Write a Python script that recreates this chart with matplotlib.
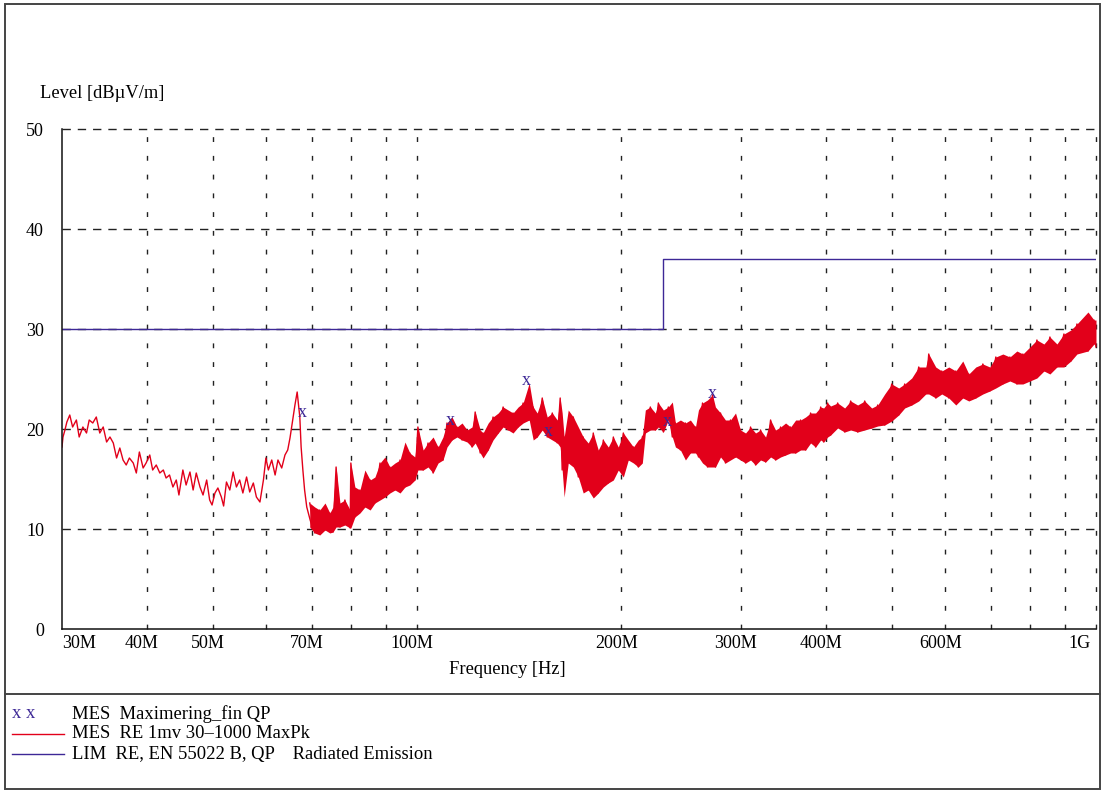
import numpy as np
import matplotlib
matplotlib.use("Agg")
import matplotlib.pyplot as plt
import matplotlib.transforms as mtransforms
from matplotlib.patches import Rectangle
from matplotlib.lines import Line2D

plt.rcParams['font.family'] = ['Liberation Serif', 'DejaVu Serif']

# 30-70 MHz: peak scan, thin noisy trace (MHz, dBuV/m)
trace_f = [30.0, 30.1, 30.3, 30.5, 30.8, 31.1, 31.5, 31.8, 32.2, 32.6,
           32.9, 33.3, 33.7, 34.1, 34.5, 34.9, 35.3, 35.7, 36.1, 36.5,
           36.9, 37.3, 37.7, 38.2, 38.6, 39.0, 39.5, 39.9, 40.4, 40.8,
           41.3, 41.8, 42.3, 42.7, 43.2, 43.7, 44.2, 44.6, 45.2, 45.7,
           46.3, 46.8, 47.3, 47.9, 48.4, 49.0, 49.5, 49.9, 50.4, 50.9,
           51.5, 51.9, 52.4, 53.0, 53.6, 54.2, 54.8, 55.4, 56.1, 56.7,
           57.4, 58.0, 58.7, 59.4, 59.9, 60.4, 61.1, 61.8, 62.4, 63.2,
           63.9, 64.5, 65.0, 65.5, 66.1, 66.6, 67.2, 67.5, 67.9, 68.3,
           68.8, 69.6, 70.1]
trace_level = [18.2, 19.2, 19.9, 20.7, 21.4, 20.2, 20.9, 19.2, 20.2, 19.6,
               20.9, 20.6, 21.2, 19.6, 20.2, 18.7, 19.2, 18.6, 17.1, 18.1,
               16.9, 16.4, 17.1, 16.6, 15.6, 17.7, 16.1, 16.6, 17.4, 15.9,
               16.4, 15.6, 15.9, 15.1, 15.4, 14.2, 14.9, 13.4, 15.9, 14.4,
               15.7, 13.9, 15.6, 14.2, 13.4, 14.9, 12.9, 12.4, 13.6, 14.1,
               13.2, 12.3, 14.7, 13.9, 15.7, 14.2, 14.9, 13.6, 15.2, 13.7,
               14.6, 13.2, 12.7, 14.9, 17.1, 15.9, 16.9, 15.4, 16.9, 16.1,
               17.4, 17.9, 19.1, 20.6, 22.4, 23.7, 21.2, 18.2, 15.9, 13.9,
               12.2, 10.9, 10.2]

# 70 MHz - 1 GHz: dense peak scan, min/max envelope
band_f = [69.5, 70.7, 71.9, 73.2, 74.4, 75.2, 76.0, 77.0, 78.3, 79.7,
          79.9, 81.0, 82.4, 83.8, 85.3, 86.7, 88.2, 89.7, 91.2, 92.8,
          94.4, 96.0, 97.6, 99.3, 100.3, 102.1, 103.8, 105.6, 107.4, 109.2,
          110.7, 112.6, 114.5, 116.5, 118.5, 120.5, 121.8, 123.9, 125.1, 127.3,
          129.4, 131.7, 133.9, 136.2, 138.5, 140.9, 143.3, 146.3, 148.3, 150.3,
          152.9, 155.5, 158.2, 160.9, 162.5, 163.6, 164.7, 167.0, 169.9, 172.8,
          175.7, 178.7, 181.8, 184.9, 188.1, 191.3, 194.6, 197.9, 201.3, 204.7,
          208.3, 211.8, 214.7, 216.9, 220.6, 224.4, 226.7, 230.6, 234.5, 237.7,
          240.2, 244.3, 248.5, 252.7, 257.1, 259.7, 263.3, 267.8, 272.4, 275.1,
          279.9, 284.6, 289.5, 294.5, 299.5, 304.7, 309.9, 315.2, 320.6, 326.1,
          331.7, 337.3, 343.1, 349.0, 355.0, 361.1, 367.2, 373.5, 379.9, 386.4,
          393.1, 397.1, 402.5, 406.6, 416.4, 426.4, 435.2, 445.6, 456.4, 467.3,
          477.0, 488.4, 500.2, 512.2, 522.7, 535.3, 548.2, 561.4, 567.1, 580.7,
          592.7, 607.0, 621.6, 636.5, 649.6, 665.2, 681.3, 697.7, 712.0, 729.2,
          746.7, 764.6, 780.4, 799.2, 818.4, 838.1, 855.3, 875.9, 896.9, 918.5,
          937.4, 973.2, 993.2, 1000.0]
band_lo = [10.2, 9.6, 9.4, 9.9, 9.6, 9.7, 10.2, 10.2, 10.4, 10.1,
           10.1, 11.2, 11.6, 12.2, 11.9, 12.6, 12.9, 13.2, 13.6, 13.9,
           13.6, 14.2, 14.4, 14.9, 15.9, 15.9, 16.2, 15.6, 16.6, 16.9,
           18.2, 18.9, 19.2, 18.9, 18.7, 18.2, 18.6, 17.6, 17.1, 17.9,
           18.9, 19.6, 20.2, 19.9, 19.6, 20.2, 20.6, 20.9, 18.9, 19.2,
           19.9, 19.2, 18.9, 18.6, 18.2, 15.9, 13.2, 16.6, 16.2, 15.2,
           13.6, 13.9, 13.1, 13.6, 14.2, 14.6, 14.9, 15.9, 15.2, 16.9,
           16.6, 16.2, 16.6, 19.6, 19.9, 19.9, 20.2, 19.7, 20.9, 19.2,
           18.2, 17.9, 16.9, 17.6, 17.6, 17.2, 16.6, 16.2, 16.2, 16.2,
           17.2, 16.6, 16.9, 17.2, 16.9, 16.6, 16.9, 16.4, 16.9, 16.7,
           17.2, 16.9, 17.2, 17.4, 17.6, 17.6, 17.9, 17.9, 18.6, 18.2,
           18.9, 18.7, 19.2, 19.4, 20.1, 19.7, 19.9, 19.7, 19.9, 20.1,
           20.3, 20.4, 20.8, 21.4, 22.1, 22.4, 22.8, 23.5, 23.5, 23.1,
           23.5, 23.1, 22.4, 23.1, 22.8, 23.1, 23.5, 23.8, 24.1, 24.5,
           24.8, 24.5, 24.5, 24.8, 25.1, 25.8, 25.5, 26.2, 26.2, 26.8,
           27.5, 27.8, 28.5, 28.2]
band_hi = [12.6, 12.2, 11.9, 12.6, 11.6, 12.2, 16.2, 12.6, 12.9, 11.9,
           16.6, 14.2, 13.9, 15.9, 14.9, 15.2, 16.6, 17.2, 16.2, 16.6,
           16.9, 18.7, 17.6, 17.2, 20.2, 17.9, 18.6, 19.2, 18.2, 19.2,
           20.6, 21.2, 20.2, 20.6, 19.9, 20.2, 21.7, 19.9, 19.6, 20.6,
           21.2, 21.6, 22.2, 21.9, 21.6, 22.2, 22.6, 24.6, 22.2, 21.6,
           23.1, 21.2, 21.6, 20.9, 23.1, 21.6, 19.2, 21.9, 21.2, 20.2,
           19.2, 18.6, 19.6, 17.9, 18.9, 18.2, 19.2, 18.2, 19.6, 18.9,
           18.2, 18.9, 19.2, 21.9, 22.2, 21.6, 22.6, 21.9, 22.2, 22.7,
           20.6, 20.9, 20.6, 20.9, 20.2, 21.9, 22.6, 22.9, 23.4, 22.2,
           21.6, 20.9, 20.9, 21.6, 19.9, 19.6, 20.2, 19.6, 19.9, 19.2,
           20.9, 19.9, 20.2, 20.6, 20.2, 20.9, 20.9, 21.2, 21.6, 21.6,
           22.2, 22.1, 22.6, 22.3, 22.6, 22.1, 22.8, 22.4, 22.8, 22.1,
           22.4, 23.5, 24.5, 24.1, 24.5, 25.1, 26.2, 26.2, 27.5, 26.2,
           25.8, 26.2, 25.8, 26.8, 25.5, 26.2, 26.5, 26.2, 27.2, 27.5,
           27.2, 27.8, 27.5, 28.2, 28.9, 28.5, 29.2, 28.5, 29.5, 29.9,
           30.5, 31.7, 30.9, 30.9]

# EN 55022 class B QP limit
limit_f = [30, 230, 1000]
limit_level = [30, 37, 37]

# final QP measurements
qp_f = [67.7, 111.9, 145.1, 156.2, 234.0, 272.1]
qp_level = [21.7, 20.9, 24.9, 19.8, 20.8, 23.6]

xtick_f = [30, 40, 50, 70, 100, 200, 300, 400, 600, 1000]
xtick_labels = ['30M', '40M', '50M', '70M', '100M', '200M', '300M', '400M', '600M', '1G']
grid_f = [40, 50, 60, 70, 80, 90, 100, 200, 300, 400, 500, 600, 700, 800, 900, 1000]
ytick = [0, 10, 20, 30, 40, 50]

red = '#e2001a'
purple = '#3d2896'

W, H = 1103, 792
fig = plt.figure(figsize=(W / 100, H / 100), dpi=100)
ax = fig.add_axes([62 / W, 1 - 629 / H, (1096 - 62) / W, 500 / H])

ax.set_xscale('log')
ax.set_xlim(30, 1000)
ax.set_ylim(0, 50)

# trace
ax.plot(trace_f, trace_level, color=red, lw=1.0)
zig = [h if i % 2 == 0 else l for i, (l, h) in enumerate(zip(band_lo, band_hi))]
ax.fill_between(band_f, band_lo, band_hi, color=red, lw=0)
ax.plot(band_f, zig, color=red, lw=1.0)

ax.step(limit_f, limit_level, where='post', color=purple, lw=1.0)

for f, v in zip(qp_f, qp_level):
    ax.text(f, v, 'x', color=purple, fontsize=13, ha='center', va='center')

# axes & grid
ax.set_xticks(grid_f, minor=False)
ax.set_xticks([], minor=True)
ax.set_xticklabels([])
for f in grid_f:
    ax.axvline(f, color='#222222', lw=1.0, ls=(0, (3.5, 10)), clip_on=False, zorder=0.5)
for v in ytick[1:]:
    ax.axhline(v, color='#222222', lw=1.0, ls=(0, (6, 5)), clip_on=False, zorder=0.5)

ax.set_yticks(ytick)
ax.tick_params(axis='both', length=0, labelsize=13)
ax.tick_params(axis='y', pad=13)
ax.tick_params(axis='x', labelbottom=False)
for s in ['top', 'right']:
    ax.spines[s].set_visible(False)
for s in ['left', 'bottom']:
    ax.spines[s].set_linewidth(1.1)
    ax.spines[s].set_color('#111111')

# x tick labels (first left-aligned, last right-aligned)
shift = mtransforms.ScaledTranslation(-5 / 100, 0, fig.dpi_scale_trans)
down = mtransforms.ScaledTranslation(0, -6 / 100, fig.dpi_scale_trans)
for i, (f, lab) in enumerate(zip(xtick_f, xtick_labels)):
    ha = 'center'
    tr = ax.get_xaxis_transform() + shift + down
    if i == 0:
        ha = 'left'
        tr = ax.get_xaxis_transform() + down
    elif i == len(xtick_f) - 1:
        ha = 'right'
    ax.text(f, 0, lab, transform=tr, ha=ha, va='top', fontsize=13)

fig.text(40 / W, 1 - 94 / H, 'Level [dB\u00b5V/m]', fontsize=13.3, va='center', ha='left')
fig.text(449 / W, 1 - 669 / H, 'Frequency [Hz]', fontsize=13.3, va='center', ha='left')

# frame and legend box
fig.patches.append(Rectangle((5 / W, 1 - 789 / H), 1095 / W, 785 / H, transform=fig.transFigure,
                             fill=False, ec='#444444', lw=1.4))
fig.lines.append(Line2D([5 / W, 1100 / W], [1 - 694 / H, 1 - 694 / H], transform=fig.transFigure,
                        color='#444444', lw=1.4))

fig.text(12 / W, 1 - 714 / H, 'x x', color=purple, fontsize=13.4, va='center', ha='left')
fig.lines.append(Line2D([12 / W, 64 / W], [1 - 734 / H] * 2, transform=fig.transFigure, color=red, lw=1.0))
fig.lines.append(Line2D([12 / W, 64 / W], [1 - 754 / H] * 2, transform=fig.transFigure, color=purple, lw=1.0))
legend_text = ['MES  Maximering_fin QP', 'MES  RE 1mv 30\u20131000 MaxPk',
               'LIM  RE, EN 55022 B, QP    Radiated Emission']
for k, t in enumerate(legend_text):
    fig.text(72 / W, 1 - (714 + 20 * k) / H, t, fontsize=13.4, va='center', ha='left')

fig.savefig('out.png', dpi=100)
